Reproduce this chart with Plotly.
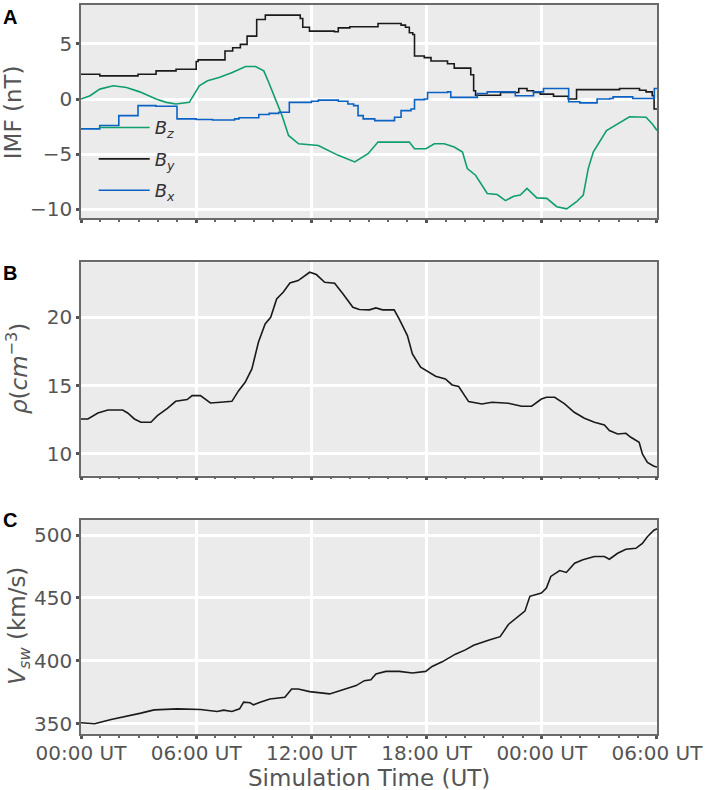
import plotly.graph_objects as go
import pandas as pd

# IMF components (hours since 00:00 UT, nT)
bz_hours = [0, 0.47, 0.98, 1.68, 2.37, 3.06, 3.91, 4.44, 4.95, 5.64, 5.9, 6.16, 6.59, 7.19, 7.88,
            8.57, 9.09, 9.52, 9.78, 10.12, 10.47, 10.81, 11.33, 12.36, 13.05, 13.4, 14.26, 14.95,
            15.47, 17.1, 17.37, 17.97, 18.4, 18.92, 19.44, 19.87, 20.12, 20.55, 21.16, 21.68,
            22.11, 22.54, 22.88, 23.23, 23.74, 24.26, 24.78, 25.3, 25.81, 26.16, 26.42, 26.68,
            27.37, 27.88, 28.57, 29.43, 29.78, 30]
bz_vals = [0, 0.3, 0.9, 1.2, 1.05, 0.65, 0, -0.3, -0.45, -0.3, 0.45, 1.2, 1.65, 1.95, 2.4,
           2.95, 2.95, 2.55, 1.5, 0, -1.5, -3.3, -4.05, -4.2, -4.8, -5.1, -5.7, -4.95,
           -3.9, -3.9, -4.5, -4.5, -4.05, -4.05, -4.35, -4.8, -6.3, -6.9, -8.55, -8.65,
           -9.2, -8.8, -8.7, -8.1, -8.95, -9.0, -9.75, -9.95, -9.3, -8.7, -6.3, -4.8,
           -2.85, -2.35, -1.6, -1.65, -2.3, -2.85]

by_hours = [0, 0.98, 2.97, 3.91, 4.95, 6.0, 6.1, 7.5, 7.9, 8.3, 8.65, 9.15, 9.6, 11.42, 11.55,
            11.9, 13.2, 13.4, 14.0, 15.47, 16.67, 16.9, 17.1, 17.28, 17.37, 17.88, 18.23, 19.09,
            19.44, 20.3, 20.45, 20.55, 21.85, 22.8, 23.23, 23.57, 23.92, 24.61, 25.38, 25.81,
            28.05, 29.09, 29.43, 29.75, 29.85, 30]
by_vals = [2.25, 2.1, 2.25, 2.55, 2.7, 3.4, 3.55, 4.35, 4.65, 4.95, 5.7, 7.2, 7.6, 7.3, 6.5,
           6.15, 6.1, 6.45, 6.55, 6.85, 6.7, 6.5, 6.0, 5.85, 3.9, 3.75, 3.45, 3.2,
           2.8, 2.2, 0.75, 0.35, 0.6, 0.95, 0.75, 0.6, 0.45, 0.25, 0.0, 0.85,
           0.95, 0.8, 0.65, 0.3, -0.9, -0.9]

bx_hours = [0, 0.98, 1.97, 2.97, 3.9, 5.0, 6.0, 6.85, 8.0, 8.23, 9.26, 9.8, 10.3, 10.85, 12.0,
            12.36, 13.4, 13.9, 14.2, 14.43, 14.7, 15.3, 16.33, 16.67, 17.19, 17.37, 17.88,
            18.05, 19.09, 19.26, 20.64, 21.16, 22.62, 23.57, 24.09, 25.4, 25.98, 26.88, 27.54,
            27.71, 28.74, 29.86, 30]
bx_vals = [-2.7, -2.4, -1.5, -0.6, -0.65, -1.8, -1.85, -1.9, -1.8, -1.7, -1.4, -1.3, -1.2, -0.3, -0.2,
           -0.1, -0.2, -0.45, -0.6, -1.5, -1.8, -1.95, -1.65, -1.05, -0.9, -0.05, 0.0,
           0.6, 0.65, 0.15, 0.5, 0.65, 0.3, 0.65, 0.95, -0.25, -0.35, 0.0, 0.05,
           0.2, 0.05, 0.95, 0.95]

# density (cm^-3)
rho_hours = [0, 0.36, 0.88, 1.4, 2.17, 2.43, 2.78, 3.12, 3.64, 3.98, 4.5, 4.93, 5.53, 5.79, 6.22,
             6.74, 7.26, 7.86, 8.21, 8.55, 8.9, 9.24, 9.59, 9.88, 10.19, 10.53, 10.88, 11.31,
             11.91, 12.26, 12.69, 13.21, 13.64, 14.16, 14.5, 15.02, 15.36, 15.71, 16.31, 16.57,
             17.0, 17.26, 17.69, 18.12, 18.47, 18.98, 19.33, 19.67, 20.19, 20.88, 21.4, 22.26,
             22.95, 23.47, 23.98, 24.24, 24.67, 25.19, 25.69, 26.22, 26.74, 27.26, 27.52, 27.95,
             28.38, 28.64, 29.07, 29.24, 29.5, 29.84, 30]
rho_vals = [12.56, 12.56, 13.0, 13.22, 13.22, 13.0, 12.56, 12.32, 12.32, 12.8, 13.34, 13.85, 13.98, 14.27, 14.27,
            13.73, 13.78, 13.85, 14.63, 15.24, 16.22, 18.17, 19.51, 20.0, 21.34, 21.83, 22.51, 22.68,
            23.29, 23.12, 22.56, 22.49, 21.71, 20.73, 20.56, 20.54, 20.68, 20.54, 20.54, 19.88,
            18.66, 17.32, 16.34, 15.98, 15.68, 15.49, 15.05, 14.93, 13.83, 13.66, 13.78, 13.71,
            13.49, 13.49, 14.02, 14.15, 14.15, 13.66, 13.05, 12.61, 12.32, 12.12, 11.71, 11.46,
            11.51, 11.22, 10.85, 10.0, 9.39, 9.1, 9.05]

# solar wind speed (km/s)
vsw_hours = [0, 0.71, 1.57, 2.43, 3.12, 3.81, 5.02, 6.22, 7.09, 7.43, 7.86, 8.26, 8.47, 8.81, 8.98,
             9.33, 9.84, 10.62, 10.97, 11.31, 11.91, 12.95, 13.64, 14.33, 14.76, 15.1, 15.36,
             15.88, 16.57, 17.26, 17.95, 18.29, 18.81, 19.5, 20.02, 20.45, 21.22, 21.83, 22.26,
             22.78, 23.12, 23.38, 23.98, 24.24, 24.47, 24.93, 25.28, 25.71, 26.14, 26.74, 27.26,
             27.52, 27.95, 28.38, 28.9, 29.24, 29.5, 29.84, 30]
vsw_vals = [350.8, 350, 353.4, 356, 358.4, 361, 361.8, 361.3, 359.7, 360.8, 359.7, 361.8, 367.1, 366.6, 365,
            367.1, 369.7, 371, 377.6, 377.6, 375.5, 373.7, 377.1, 380.3, 384.2, 385, 389.5,
            391.6, 391.6, 390.3, 391.6, 395.5, 399.2, 405.3, 408.7, 412.4, 416.3, 419.2, 428.9,
            435.5, 439.5, 451.3, 453.9, 457.9, 467.1, 471.8, 470.3, 477.6, 480.3, 482.9, 482.9,
            480.8, 485.5, 488.7, 489.5, 493.4, 498.7, 503.9, 505]

t0 = pd.Timestamp("2000-01-01")


def to_time(hours):
    return [t0 + pd.Timedelta(hours=h) for h in hours]


GREEN = "#0f9e6e"
BLUE = "#0b62c4"
BLACK = "#1a1a1a"
TXT = "#555555"

fig = go.Figure()

fig.add_trace(go.Scatter(x=to_time(bz_hours), y=bz_vals, mode="lines", name="<i>B</i><sub><i>z</i></sub>",
                         line=dict(color=GREEN, width=1.6), legendgroup="bz", xaxis="x", yaxis="y"))
fig.add_trace(go.Scatter(x=to_time(by_hours), y=by_vals, mode="lines", name="<i>B</i><sub><i>y</i></sub>",
                         line=dict(color=BLACK, width=1.6, shape="hv"), legendgroup="by", xaxis="x", yaxis="y"))
fig.add_trace(go.Scatter(x=to_time(bx_hours), y=bx_vals, mode="lines", name="<i>B</i><sub><i>x</i></sub>",
                         line=dict(color=BLUE, width=1.6, shape="hv"), legendgroup="bx", xaxis="x", yaxis="y"))
fig.add_trace(go.Scatter(x=to_time(rho_hours), y=rho_vals, mode="lines", showlegend=False,
                         line=dict(color=BLACK, width=1.6), xaxis="x2", yaxis="y2"))
fig.add_trace(go.Scatter(x=to_time(vsw_hours), y=vsw_vals, mode="lines", showlegend=False,
                         line=dict(color=BLACK, width=1.6), xaxis="x3", yaxis="y3"))

tick_font = dict(size=20, color=TXT, family="DejaVu Sans")
# a one-second pad keeps the last 06:00 tick inside the range
xrange = [str(t0), str(t0 + pd.Timedelta(hours=30, seconds=1))]


def xax(anchor, labels):
    return dict(type="date", range=xrange, domain=[0, 1], anchor=anchor,
                tick0=str(t0), dtick=6 * 3600 * 1000, tickformat="%H:%M UT",
                showticklabels=labels, tickfont=tick_font, ticklabelstandoff=-3,
                ticklabeloverflow="allow",
                showgrid=True, gridcolor="white", gridwidth=2.5, zeroline=False,
                showline=True, linecolor="#6a6a6a", linewidth=1.5, mirror=True,
                ticks="outside", ticklen=3, tickwidth=3, tickcolor="#555555",
                minor=dict(dtick=3600 * 1000, ticks="outside", ticklen=2, tickwidth=2,
                           tickcolor="#666666", showgrid=False))


def yax(anchor, dom, rng, dtick):
    return dict(domain=dom, range=rng, anchor=anchor, dtick=dtick, tickfont=tick_font,
                showgrid=True, gridcolor="white", gridwidth=2.5, zeroline=False,
                showline=True, linecolor="#6a6a6a", linewidth=1.5, mirror=True,
                ticks="outside", ticklen=3, tickwidth=3, tickcolor="#555555")


fig.update_layout(
    width=706, height=790,
    margin=dict(l=81, r=46, t=3, b=56),
    paper_bgcolor="white", plot_bgcolor="#ebebeb",
    font=dict(family="DejaVu Sans", color=TXT),
    xaxis=xax("y", False),
    xaxis2=xax("y2", False),
    xaxis3=xax("y3", True),
    yaxis=yax("x", [0.7073, 1.0], [-10.81, 8.52], 5),
    yaxis2=yax("x2", [0.3543, 0.6471], [8.41, 24.02], 5),
    yaxis3=yax("x3", [0.0, 0.2941], [341.8, 512.3], 50),
    showlegend=True,
    legend=dict(x=0.022, y=0.857, xanchor="left", yanchor="top", bgcolor="rgba(0,0,0,0)",
                font=dict(size=18, color="#333333", family="DejaVu Sans"),
                tracegroupgap=5, itemwidth=51),
)

# axis titles and panel letters
fig.add_annotation(text="IMF (nT)", xref="paper", yref="paper", x=-0.119, y=0.8536,
                   xanchor="center", yanchor="middle",
                   textangle=-90, showarrow=False, font=dict(size=23, color=TXT))
fig.add_annotation(text="<i>ρ</i>(<i>cm</i><sup>−3</sup>)", xref="paper", yref="paper", x=-0.111, y=0.5007,
                   xanchor="center", yanchor="middle",
                   textangle=-90, showarrow=False, font=dict(size=23, color=TXT))
fig.add_annotation(text="<i>V</i><sub><i>sw</i></sub> (km/s)", xref="paper", yref="paper", x=-0.107, y=0.1491,
                   xanchor="center", yanchor="middle",
                   textangle=-90, showarrow=False, font=dict(size=23, color=TXT))
fig.add_annotation(text="Simulation Time (UT)", xref="paper", yref="paper", x=0.5, y=-0.0605,
                   xanchor="center", yanchor="middle", showarrow=False, font=dict(size=23, color=TXT))

for letter, ly in [("A", 0.9836), ("B", 0.6327), ("C", 0.2934)]:
    fig.add_annotation(text="<b>%s</b>" % letter, xref="paper", yref="paper", x=-0.123, y=ly,
                       xanchor="center", yanchor="middle",
                       showarrow=False, font=dict(size=20, color="black", family="Liberation Sans"))

fig.write_html("out.html", config={"displayModeBar": False},
               post_script="document.body.style.margin='0px';")
